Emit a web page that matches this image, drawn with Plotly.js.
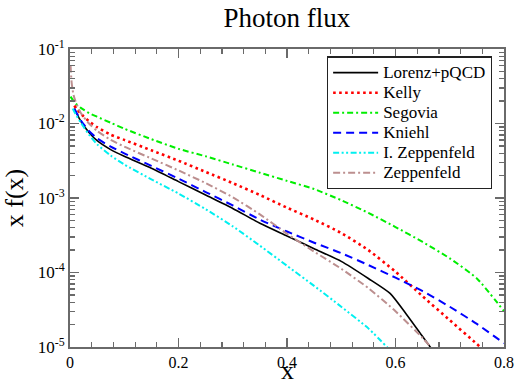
<!DOCTYPE html>
<html>
<head>
<meta charset="utf-8">
<script src="https://cdn.plot.ly/plotly-3.0.1.min.js"></script>
<style>
  html, body { margin: 0; padding: 0; background: #fff; }
  #chart { width: 515px; height: 386px; }
</style>
</head>
<body>
<div id="chart"></div>
<script>
// Photon flux x f(x) for several parametrisations (values given as log10)
const seriesNames = ['Lorenz+pQCD', 'Kelly', 'Segovia', 'Kniehl', 'I. Zeppenfeld', 'Zeppenfeld'];

const xLorenz = [0.008, 0.02, 0.035, 0.05, 0.075, 0.1, 0.15, 0.2, 0.25, 0.3, 0.35, 0.4, 0.45, 0.5, 0.55, 0.59, 0.62, 0.65, 0.67];
const logLorenz = [-1.80, -1.97, -2.12, -2.23, -2.35, -2.44, -2.60, -2.78, -2.96, -3.14, -3.34, -3.51, -3.68, -3.85, -4.08, -4.28, -4.56, -4.86, -5.06];

const xKelly = [0.008, 0.012, 0.02, 0.035, 0.05, 0.075, 0.1, 0.15, 0.2, 0.25, 0.3, 0.35, 0.4, 0.45, 0.5, 0.55, 0.6, 0.65, 0.7, 0.75, 0.78];
const logKelly = [-1.76, -1.80, -1.87, -1.97, -2.05, -2.15, -2.22, -2.36, -2.50, -2.65, -2.80, -2.96, -3.13, -3.29, -3.47, -3.70, -3.99, -4.32, -4.64, -4.96, -5.16];

const xSegovia = [0.001, 0.01, 0.02, 0.035, 0.05, 0.075, 0.1, 0.15, 0.2, 0.25, 0.3, 0.35, 0.4, 0.45, 0.5, 0.55, 0.6, 0.65, 0.7, 0.75, 0.8];
const logSegovia = [-1.64, -1.73, -1.79, -1.86, -1.91, -1.99, -2.07, -2.21, -2.34, -2.44, -2.55, -2.66, -2.77, -2.88, -3.03, -3.20, -3.39, -3.59, -3.81, -4.08, -4.52];

const xKniehl = [0.008, 0.02, 0.035, 0.05, 0.075, 0.1, 0.15, 0.2, 0.25, 0.3, 0.35, 0.4, 0.45, 0.5, 0.55, 0.6, 0.65, 0.7, 0.75, 0.8];
const logKniehl = [-1.80, -1.96, -2.10, -2.20, -2.31, -2.40, -2.57, -2.74, -2.92, -3.10, -3.29, -3.45, -3.60, -3.74, -3.90, -4.07, -4.25, -4.46, -4.69, -4.95];

const xIZepp = [0.005, 0.01, 0.02, 0.035, 0.05, 0.075, 0.1, 0.15, 0.2, 0.25, 0.3, 0.35, 0.4, 0.45, 0.5, 0.55, 0.6];
const logIZepp = [-1.80, -1.87, -1.99, -2.15, -2.28, -2.43, -2.55, -2.75, -2.94, -3.15, -3.38, -3.64, -3.91, -4.18, -4.46, -4.75, -5.12];

const xZepp = [0.001, 0.003, 0.006, 0.01, 0.02, 0.035, 0.05, 0.075, 0.1, 0.15, 0.2, 0.25, 0.3, 0.35, 0.4, 0.45, 0.5, 0.55, 0.6, 0.65, 0.67];
const logZepp = [-1.22, -1.45, -1.60, -1.70, -1.86, -2.00, -2.10, -2.22, -2.31, -2.47, -2.63, -2.80, -2.99, -3.22, -3.48, -3.72, -3.95, -4.21, -4.52, -4.88, -5.04];

const yTickVals = [1e-5, 1e-4, 1e-3, 1e-2, 1e-1];
const yTickText = ['10<sup>-5</sup>', '10<sup>-4</sup>', '10<sup>-3</sup>', '10<sup>-2</sup>', '10<sup>-1</sup>'];
const xTickVals = [0, 0.2, 0.4, 0.6, 0.8];
const xTickText = ['0', '0.2', '0.4', '0.6', '0.8'];

const pow10 = arr => arr.map(v => Math.pow(10, v));

const styles = [
  { color: '#000000', width: 1.6, dash: 'solid' },
  { color: '#ff0000', width: 2.6, dash: '2.6px,3.4px' },
  { color: '#00ee00', width: 2, dash: '6px,3px,2px,3px' },
  { color: '#0000ff', width: 2, dash: '8px,5px' },
  { color: '#00f0f0', width: 2, dash: '6px,2.5px,2px,2.5px,2px,2.5px' },
  { color: '#bc8f8f', width: 2, dash: '7px,3px,2px,3px' }
];

const xs = [xLorenz, xKelly, xSegovia, xKniehl, xIZepp, xZepp];
const logs = [logLorenz, logKelly, logSegovia, logKniehl, logIZepp, logZepp];

// legend labels are set a little larger than the row spacing implies
const legendLabel = name => '<span style="font-size:17px">' + name + '</span>';

const traces = seriesNames.map((name, i) => ({
  type: 'scatter',
  mode: 'lines',
  name: legendLabel(name),
  x: xs[i],
  y: pow10(logs[i]),
  line: Object.assign({ shape: 'spline', smoothing: 0.6 }, styles[i])
}));

const serif = '"Liberation Serif", "Times New Roman", Times, serif';
const frame = '#6a6a6a';

const layout = {
  width: 515,
  height: 386,
  margin: { l: 70, r: 11, t: 49, b: 39 },
  paper_bgcolor: '#ffffff',
  plot_bgcolor: '#ffffff',
  font: { family: serif, color: '#000000', size: 16 },
  title: {
    text: 'Photon flux',
    font: { family: serif, size: 27, color: '#000000' },
    x: 0.557, xanchor: 'center', y: 0.955, yanchor: 'middle'
  },
  showlegend: true,
  legend: {
    x: 0.592, y: 0.975, xanchor: 'left', yanchor: 'top',
    bgcolor: '#ffffff', bordercolor: '#222222', borderwidth: 1.2,
    font: { family: serif, size: 13.1, color: '#000000' },
    itemwidth: 45, tracegroupgap: 0
  },
  // x-axis label, placed just under the tick labels
  annotations: [{
    text: 'x', xref: 'paper', yref: 'paper', x: 0.5, y: 0,
    xanchor: 'center', yanchor: 'middle', yshift: -23, showarrow: false,
    font: { family: serif, size: 26, color: '#000000' }
  }],
  xaxis: {
    range: [0, 0.8],
    tickmode: 'array', tickvals: xTickVals, ticktext: xTickText,
    ticks: 'inside', ticklen: 9, tickwidth: 1.5, tickcolor: frame,
    minor: { tick0: 0, dtick: 0.04, ticks: 'inside', ticklen: 5, tickwidth: 1.2, tickcolor: frame, showgrid: false },
    showline: true, linecolor: frame, linewidth: 2, mirror: 'ticks',
    showgrid: false, zeroline: false,
    tickfont: { family: serif, size: 16 }
  },
  yaxis: {
    type: 'log',
    range: [-5, -1],
    tickmode: 'array', tickvals: yTickVals, ticktext: yTickText,
    ticks: 'inside', ticklen: 9, tickwidth: 1.5, tickcolor: frame,
    minor: { dtick: 'D1', ticks: 'inside', ticklen: 5, tickwidth: 1.2, tickcolor: frame, showgrid: false },
    showline: true, linecolor: frame, linewidth: 2, mirror: 'ticks',
    showgrid: false, zeroline: false,
    tickfont: { family: serif, size: 17 },
    title: { text: 'x f(x)', font: { family: serif, size: 26 }, standoff: 8 }
  }
};

Plotly.newPlot('chart', traces, layout, { displayModeBar: false, staticPlot: true });
</script>
</body>
</html>
